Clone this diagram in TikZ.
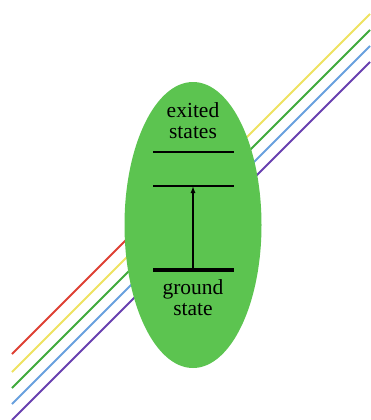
\documentclass[tikz,border=0pt]{standalone}
\usepackage{fontspec}
\setmainfont{Liberation Serif}
\usetikzlibrary{shapes.geometric,arrows.meta}
\definecolor{atomgreen}{RGB}{92,196,80}
\definecolor{rayred}{RGB}{222,64,52}
\definecolor{rayyellow}{RGB}{238,226,96}
\definecolor{raygreen}{RGB}{64,170,60}
\definecolor{rayblue}{RGB}{104,160,222}
\definecolor{raypurple}{RGB}{104,64,176}
\begin{document}
\begin{tikzpicture}[x=1pt,y=-1pt,
  ray/.style={line width=2pt},
  level/.style={line width=1.8pt},
  lbl/.style={font=\fontsize{21.5}{21}\selectfont,align=center,inner sep=0}]
\useasboundingbox (0,0) rectangle (370,420);
% light rays (red one ends behind the atom)
\draw[ray,rayred] (12,354) -- (193,173);
\foreach \c/\col in {384/rayyellow,400/raygreen,416/rayblue,432/raypurple}{
  \draw[ray,\col] (12,\c-12) -- (370,\c-370);
}
\node[ellipse,fill=atomgreen,minimum width=137pt,minimum height=286pt,inner sep=0] (atom) at (193,225) {};
\node[lbl] (exc) at (193,121) {exited\\states};
\node[lbl] (gnd) at (193,298) {ground\\state};
\coordinate (e2) at (193,152); \coordinate (e1) at (193,186); \coordinate (g) at (193,270);
\draw[level] ([xshift=-40pt]e2) -- ([xshift=41pt]e2);
\draw[level] ([xshift=-40pt]e1) -- ([xshift=41pt]e1);
\draw[level,line width=3.5pt] ([xshift=-40pt]g) -- ([xshift=41pt]g);
\draw[line width=1.3pt,-{Latex[length=7pt,width=5pt]}] (g) -- (e1);
\end{tikzpicture}
\end{document}
